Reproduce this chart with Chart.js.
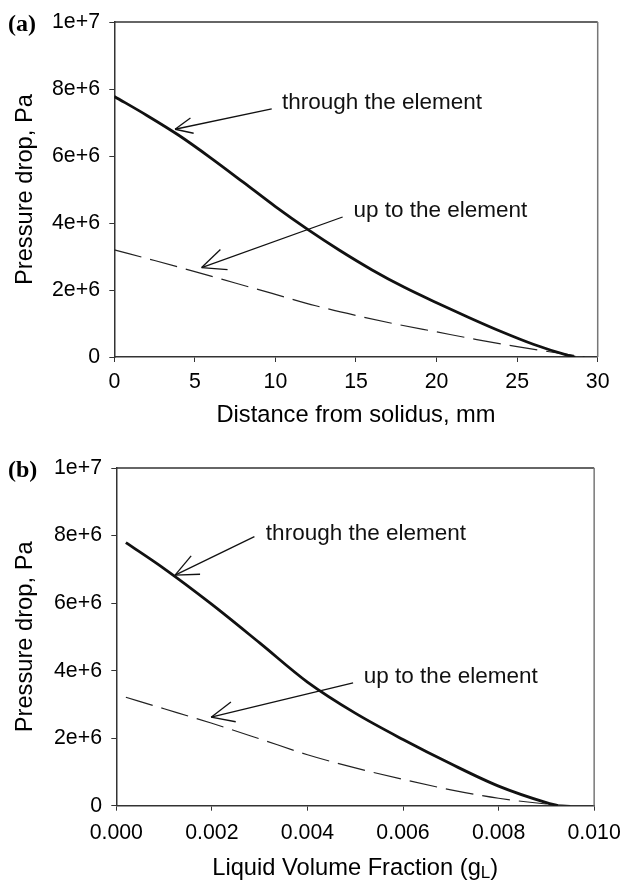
<!DOCTYPE html>
<html>
<head>
<meta charset="utf-8">
<script src="https://cdn.jsdelivr.net/npm/chart.js@4.4.0/dist/chart.umd.min.js"></script>
<style>
  html, body { margin: 0; padding: 0; background: #fff; }
  #wrap { position: relative; width: 630px; height: 883px; }
  .panel { position: absolute; left: 0; width: 630px; }
  #panelA { top: 0; height: 440px; }
  #panelB { top: 440px; height: 443px; }
</style>
</head>
<body>
<div id="wrap">
  <div class="panel" id="panelA"><canvas id="chartA" width="630" height="440"></canvas></div>
  <div class="panel" id="panelB"><canvas id="chartB" width="630" height="443"></canvas></div>
</div>
<script>
/* ---- panel (a): pressure drop vs distance from solidus ---- */
const distThrough  = [0, 2, 4, 6, 8, 10, 12, 14, 16, 18, 20, 22, 24, 26, 28, 28.6];
const pressThrough = [7.78e6, 7.22e6, 6.62e6, 5.94e6, 5.22e6, 4.49e6, 3.81e6, 3.18e6,
                      2.60e6, 2.08e6, 1.62e6, 1.18e6, 0.76e6, 0.38e6, 0.07e6, 0];
const distUpTo     = [0, 2.5, 5, 7.5, 10, 12.5, 15, 17.5, 20, 22.5, 25, 27.5, 29.2];
const pressUpTo    = [3.20e6, 2.88e6, 2.55e6, 2.21e6, 1.87e6, 1.53e6, 1.24e6, 0.98e6,
                      0.75e6, 0.52e6, 0.31e6, 0.12e6, 0];

/* ---- panel (b): pressure drop vs liquid volume fraction ---- */
const fracThrough   = [0.0002, 0.001, 0.002, 0.003, 0.004, 0.005, 0.006, 0.007, 0.008, 0.009, 0.00924];
const pressThroughB = [7.79e6, 7.02e6, 5.96e6, 4.82e6, 3.66e6, 2.74e6, 1.96e6, 1.24e6, 0.58e6, 0.09e6, 0];
const fracUpTo      = [0.0002, 0.001, 0.002, 0.003, 0.004, 0.005, 0.006, 0.007, 0.008, 0.009, 0.0095];
const pressUpToB    = [3.21e6, 2.87e6, 2.44e6, 1.98e6, 1.51e6, 1.12e6, 0.78e6, 0.47e6, 0.22e6, 0.05e6, 0];

/* annotation labels, in data units: arrow tip, arrow tail, text start */
const notesA = [
  { text: 'through the element', tip: [3.77, 6.80e6], tail: [9.77, 7.41e6], at: [10.4, 7.39e6] },
  { text: 'up to the element',   tip: [5.42, 2.67e6], tail: [14.17, 4.18e6], at: [14.84, 4.18e6] }
];
const notesB = [
  { text: 'through the element', tip: [0.00123, 6.83e6], tail: [0.00289, 7.97e6], at: [0.00313, 7.87e6] },
  { text: 'up to the element',   tip: [0.001985, 2.62e6], tail: [0.004955, 3.64e6], at: [0.00518, 3.64e6] }
];

const FONT = '"Liberation Sans", Arial, Helvetica, sans-serif';

function toPoints(xs, ys) {
    return xs.map((x, i) => ({ x: x, y: ys[i] }));
}

// frame, arrows, panel letter and (optionally) a subscripted x title
const figureExtras = {
    id: 'figureExtras',
    afterDraw(chart, args, opts) {
        const { ctx, chartArea: a, scales } = chart;
        const xs = scales.x, ys = scales.y;
        ctx.save();

        ctx.lineWidth = 1.5;
        ctx.strokeStyle = '#333';
        ctx.beginPath(); ctx.moveTo(a.left, a.top); ctx.lineTo(a.right, a.top); ctx.stroke();
        ctx.strokeStyle = '#777';
        ctx.beginPath(); ctx.moveTo(a.right, a.top); ctx.lineTo(a.right, a.bottom); ctx.stroke();

        ctx.strokeStyle = '#111';
        ctx.fillStyle = '#111';
        ctx.lineWidth = 1.3;
        ctx.font = '22.5px ' + FONT;
        ctx.textAlign = 'left';
        ctx.textBaseline = 'alphabetic';
        opts.notes.forEach((n, i) => {
            const tx = xs.getPixelForValue(n.tip[0]), ty = ys.getPixelForValue(n.tip[1]);
            const sx = xs.getPixelForValue(n.tail[0]), sy = ys.getPixelForValue(n.tail[1]);
            ctx.beginPath(); ctx.moveTo(sx, sy); ctx.lineTo(tx, ty); ctx.stroke();
            const ang = Math.atan2(sy - ty, sx - tx);
            const len = opts.headLen[i];
            [-1, 1].forEach(s => {
                ctx.beginPath();
                ctx.moveTo(tx, ty);
                ctx.lineTo(tx + len * Math.cos(ang + s * 0.42), ty + len * Math.sin(ang + s * 0.42));
                ctx.stroke();
            });
            ctx.fillText(n.text, xs.getPixelForValue(n.at[0]), ys.getPixelForValue(n.at[1]));
        });

        ctx.fillStyle = '#000';
        ctx.font = 'bold 24px "Liberation Serif", "Times New Roman", serif';
        ctx.fillText(opts.panel, 8, a.top + 9);

        if (opts.xTitle) {
            const t = opts.xTitle;
            ctx.font = '23.7px ' + FONT;
            const w1 = ctx.measureText(t.main).width;
            const w3 = ctx.measureText(t.close).width;
            ctx.font = '17px ' + FONT;
            const w2 = ctx.measureText(t.sub).width;
            let cx = (a.left + a.right) / 2 - (w1 + w2 + w3) / 2;
            const base = a.bottom + t.gap;
            ctx.font = '23.7px ' + FONT;
            ctx.fillText(t.main, cx, base);
            cx += w1;
            ctx.font = '17px ' + FONT;
            ctx.fillText(t.sub, cx, base + 3);
            cx += w2;
            ctx.font = '23.7px ' + FONT;
            ctx.fillText(t.close, cx, base);
        }
        ctx.restore();
    }
};

function makeChart(id, cfg) {
    const axisGrid = { display: true, drawOnChartArea: false, drawTicks: true, tickLength: 5, color: '#333', lineWidth: 1 };
    const axisBorder = { display: true, color: '#333', width: 1.5 };
    return new Chart(document.getElementById(id), {
        type: 'line',
        data: {
            datasets: [
                {
                    label: 'through the element',
                    data: cfg.through,
                    borderColor: '#111',
                    borderWidth: 2.8,
                    pointRadius: 0,
                    cubicInterpolationMode: 'monotone',
                    fill: false
                },
                {
                    label: 'up to the element',
                    data: cfg.upTo,
                    borderColor: '#222',
                    borderWidth: 1.2,
                    borderDash: [28, 9],
                    pointRadius: 0,
                    cubicInterpolationMode: 'monotone',
                    fill: false
                }
            ]
        },
        options: {
            responsive: false,
            animation: false,
            layout: { padding: { top: cfg.padTop, right: cfg.padRight, left: 0, bottom: 0 } },
            plugins: {
                legend: { display: false },
                tooltip: { enabled: false },
                figureExtras: { notes: cfg.notes, headLen: cfg.headLen, panel: cfg.panel, xTitle: cfg.xTitleCustom }
            },
            scales: {
                x: {
                    type: 'linear',
                    min: cfg.xMin, max: cfg.xMax,
                    grid: axisGrid,
                    border: axisBorder,
                    ticks: {
                        stepSize: cfg.xStep,
                        color: '#000',
                        padding: cfg.xTickPad,
                        maxRotation: 0,
                        font: { family: FONT, size: 21.3 },
                        callback: cfg.xFormat
                    },
                    title: {
                        display: !!cfg.xTitle,
                        text: cfg.xTitle,
                        color: '#000',
                        font: { family: FONT, size: 23.7 },
                        padding: { top: 0, bottom: 10.8 }
                    },
                    afterFit: (scale) => { scale.height = cfg.xHeight; }
                },
                y: {
                    min: 0, max: 1e7,
                    grid: axisGrid,
                    border: axisBorder,
                    ticks: {
                        stepSize: 2e6,
                        color: '#000',
                        padding: 9.3,
                        font: { family: FONT, size: 21.3 },
                        callback: (v) => v === 0 ? '0' : Number(v).toExponential()
                    },
                    title: {
                        display: true,
                        text: 'Pressure drop, Pa',
                        color: '#000',
                        font: { family: FONT, size: 23.7 },
                        padding: { top: 10.8, bottom: 0 }
                    },
                    afterFit: (scale) => { scale.width = cfg.yWidth; }
                }
            }
        },
        plugins: [figureExtras]
    });
}

makeChart('chartA', {
    through: toPoints(distThrough, pressThrough),
    upTo: toPoints(distUpTo, pressUpTo),
    notes: notesA,
    headLen: [19, 26],
    panel: '(a)',
    xMin: 0, xMax: 30, xStep: 5,
    xFormat: (v) => String(v),
    xTitle: 'Distance from solidus, mm',
    xTickPad: 6.9,
    padTop: 19.3, padRight: 32.3,
    yWidth: 114.3, xHeight: 83
});

makeChart('chartB', {
    through: toPoints(fracThrough, pressThroughB),
    upTo: toPoints(fracUpTo, pressUpToB),
    notes: notesB,
    headLen: [25, 25],
    panel: '(b)',
    xMin: 0, xMax: 0.01, xStep: 0.002,
    xFormat: (v) => Number(v).toFixed(3),
    xTitle: '',
    xTitleCustom: { main: 'Liquid Volume Fraction (g', sub: 'L', close: ')', gap: 69.3 },
    xTickPad: 9.2,
    padTop: 28, padRight: 30,
    yWidth: 116.3, xHeight: 77.3
});
</script>
</body>
</html>
